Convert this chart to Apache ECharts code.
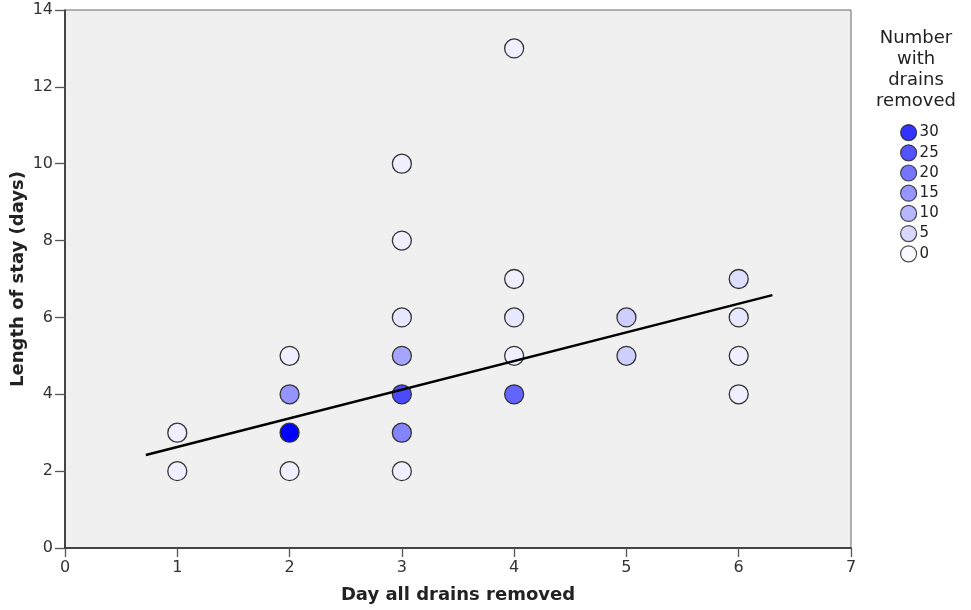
<!DOCTYPE html>
<html><head><meta charset="utf-8">
<script src="https://cdn.jsdelivr.net/npm/echarts@6/dist/echarts.min.js"></script>
<style>html,body{margin:0;padding:0;background:#fff}#c{width:971px;height:610px}</style>
</head><body><div id="c"></div>
<script>
// Data: [day all drains removed, length of stay, number of patients]
const dayRemoved = [1,1, 2,2,2,2, 3,3,3,3,3,3,3, 4,4,4,4,4, 5,5, 6,6,6,6];
const lengthOfStay = [2,3, 2,3,4,5, 2,3,4,5,6,8,10, 4,5,6,7,13, 5,6, 4,5,6,7];
const numberRemoved = [1,1, 1,30,12,1, 1,14,21,10,2,1,1, 18,1,2,1,1, 5,5, 1,1,2,3];
const legendLevels = ['30','25','20','15','10','5','0'];
const fitX = [0.72, 6.3];
const fitY = [2.42, 6.58];

const lowColor = '#f7f7ff', highColor = '#0000ff';
function lerpColor(v){
  const t = Math.max(0, Math.min(1, v/30));
  const a = [0xf7,0xf7,0xff], b = [0,0,0xff];
  const c = a.map((x,i)=>Math.round(x+(b[i]-x)*t));
  return 'rgb('+c.join(',')+')';
}
const pts = dayRemoved.map((d,i)=>[d, lengthOfStay[i], numberRemoved[i]]);
const fit = fitX.map((x,i)=>[x, fitY[i]]);

const font = 'DejaVu Sans';
const dummy = legendLevels.map(l=>({
  name: l, type:'scatter', data: [],
  itemStyle:{color: lerpColor(+l), borderColor:'#222', borderWidth:1.2}
}));

const chart = echarts.init(document.getElementById('c'), null, {renderer:'canvas'});
chart.setOption({
  animation:false,
  backgroundColor:'#fff',
  textStyle:{fontFamily:font},
  grid:{left:65, right:120, top:10, bottom:62, containLabel:false, outerBoundsMode:'none',
    show:true, backgroundColor:'#f0f0f0', borderColor:'#666', borderWidth:1},
  xAxis:{type:'value', min:0, max:7, interval:1,
    name:'Day all drains removed', nameLocation:'middle', nameGap:38, nameMoveOverlap:false,
    nameTextStyle:{fontFamily:font, fontSize:18, fontWeight:'bold', color:'#222'},
    axisLine:{lineStyle:{color:'#222', width:1.5}},
    axisTick:{show:true, length:9, lineStyle:{color:'#555', width:1.3}},
    axisLabel:{fontFamily:font, fontSize:16, color:'#333', margin:12},
    splitLine:{show:false}},
  yAxis:{type:'value', min:0, max:14, interval:2,
    name:'Length of stay (days)', nameLocation:'middle', nameGap:38, nameRotate:90, nameMoveOverlap:false,
    nameTextStyle:{fontFamily:font, fontSize:18, fontWeight:'bold', color:'#222'},
    axisLine:{lineStyle:{color:'#222', width:1.5}},
    axisTick:{show:true, length:10, lineStyle:{color:'#555', width:1.3}},
    axisLabel:{fontFamily:font, fontSize:16, color:'#333', margin:12},
    splitLine:{show:false}},
  visualMap:{show:false, type:'continuous', min:0, max:30, dimension:2, seriesIndex:0,
    inRange:{color:[lowColor, highColor]}},
  legend:{orient:'vertical', left:895, top:119, itemGap:3, itemWidth:16, itemHeight:16,
    icon:'circle',
    data: legendLevels.map(l=>({name:l, itemStyle:{color:lerpColor(+l), borderColor:'#222', borderWidth:1.2}})),
    textStyle:{fontFamily:font, fontSize:15, color:'#222', padding:[0,0,0,-2]}},
  graphic:[{type:'text', x:916, y:28,
    style:{text:'Number\nwith\ndrains\nremoved', align:'center', fontFamily:font, fontSize:18, lineHeight:21, fill:'#222'}}],
  series:[
    {type:'scatter', data:pts, symbolSize:19, z:3,
      itemStyle:{borderColor:'#333', borderWidth:1.3, opacity:1}},
    {type:'line', data:fit, symbol:'none', z:4,
      lineStyle:{color:'#000', width:2.5}, silent:true}
  ].concat(dummy)
});
</script></body></html>
